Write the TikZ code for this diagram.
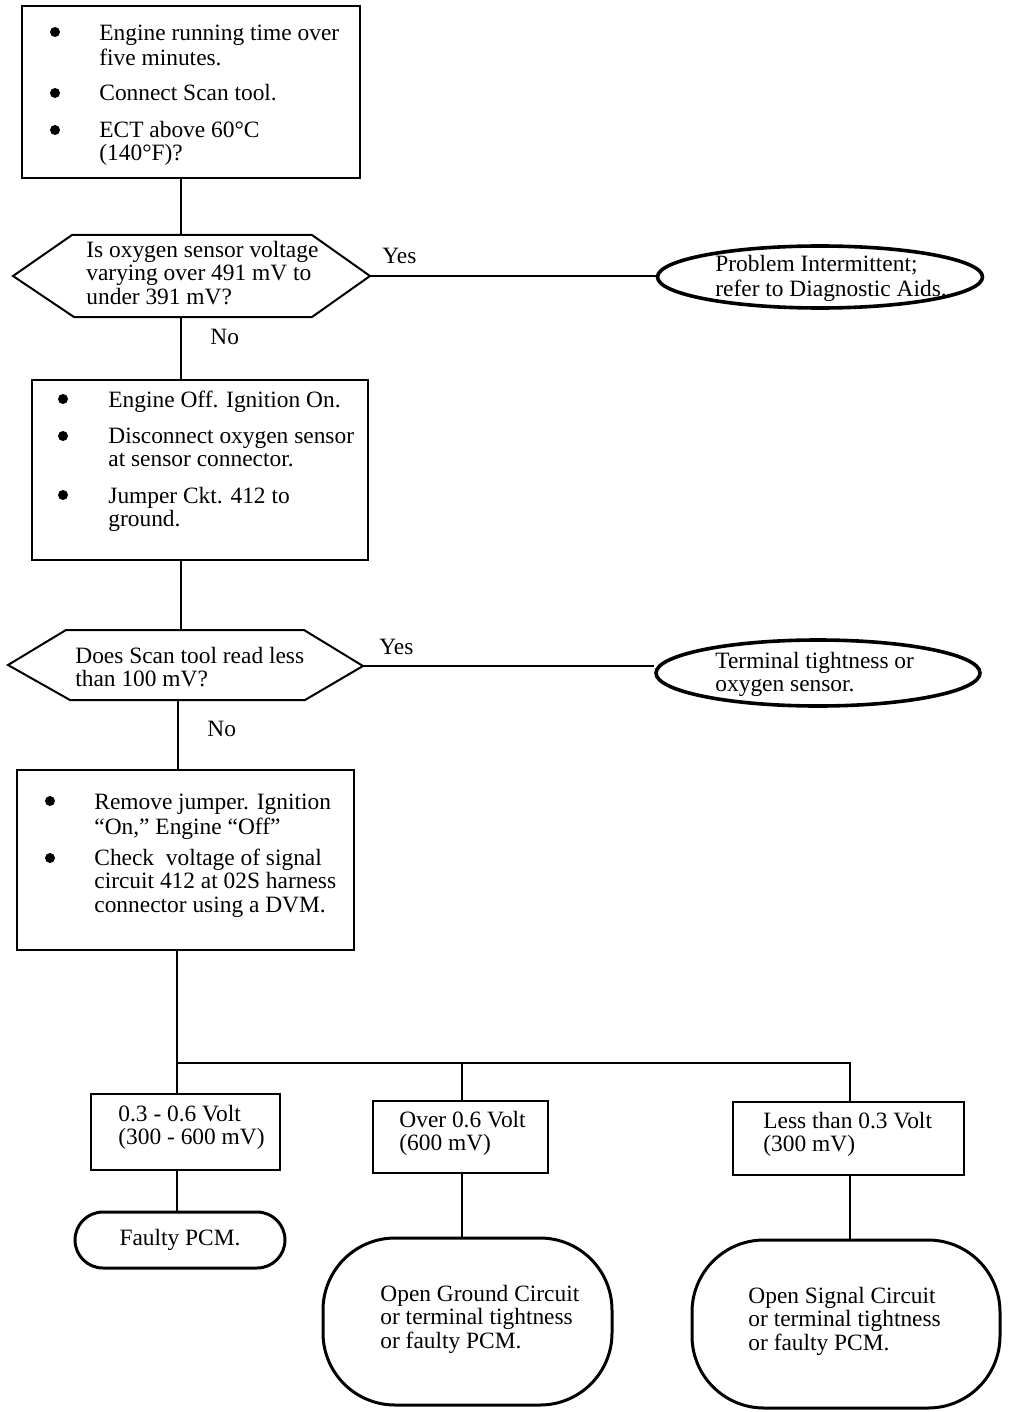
\documentclass[tikz,border=0pt]{standalone}
\usepackage{fontspec}
\setmainfont{Liberation Serif}
\usetikzlibrary{shapes.geometric}
\begin{document}
\begin{tikzpicture}[x=0.5pt,y=-0.5pt,
  box/.style={draw, rectangle, line width=1pt, inner sep=0},
  oval/.style={draw, ellipse, line width=1.8pt, inner sep=0},
  term/.style={draw, rectangle, line width=1.5pt, inner sep=0},
  txt/.style={inner sep=0, anchor=north west, align=left, font=\fontsize{11.7}{11.75}\selectfont},
  conn/.style={line width=1pt},
  dia/.style={line width=1pt, line join=miter},
  bul/.style={fill=black}]
\useasboundingbox (0,0) rectangle (1024,1412);

% ---------- boxes ----------
\node[box, minimum width=169pt, minimum height=86pt] (b1) at (191,92) {};
\node[box, minimum width=168pt, minimum height=90pt] (b2) at (200,470) {};
\node[box, minimum width=168.5pt, minimum height=90pt] (b3) at (185.5,860) {};
\node[box, minimum width=94.5pt, minimum height=38pt] (b4) at (185.5,1132) {};
\node[box, minimum width=87.5pt, minimum height=36pt] (b5) at (460.5,1137) {};
\node[box, minimum width=115.5pt, minimum height=36.5pt] (b6) at (848.5,1138.5) {};

% ---------- ovals ----------
\node[oval, minimum width=162.5pt, minimum height=31pt] (e1) at (820,277) {};
\node[oval, minimum width=162pt, minimum height=33pt] (e2) at (818,673) {};

% ---------- terminals ----------
\node[term, rounded corners=14pt, minimum width=105pt, minimum height=28pt,
      font=\fontsize{11.7}{11.75}\selectfont] (f1) at (180,1240) {Faulty PCM.};
\node[term, rounded corners=36pt, minimum width=144.5pt, minimum height=83.5pt] (f2) at (467.5,1321.5) {};
\node[term, rounded corners=36pt, minimum width=154pt, minimum height=84pt] (f3) at (846,1324) {};

% ---------- decision hexagons ----------
\coordinate (d1l) at (13,276);
\coordinate (d1t) at (181,235);
\coordinate (d1r) at (370,276);
\coordinate (d1b) at (181,317);
\draw[dia] (d1l) -- (72,235) -- (312,235) -- (d1r) -- (312,317) -- (74,317) -- cycle;

\coordinate (d2l) at (8,665);
\coordinate (d2t) at (181,630);
\coordinate (d2r) at (363,666);
\coordinate (d2b) at (178,700);
\draw[dia] (d2l) -- (66,630) -- (304,630) -- (d2r) -- (305,700) -- (70,700) -- cycle;

% ---------- bus coordinates ----------
\coordinate (busL) at (177,1063);
\coordinate (busM) at (462,1063);
\coordinate (busR) at (850,1063);

% ---------- connectors ----------
\draw[conn] (b1.south -| d1t) -- (d1t);
\draw[conn] (d1r) -- (d1r -| e1.west);
\draw[conn] (d1b) -- (d1b |- b2.north);
\draw[conn] (b2.south -| d2t) -- (d2t);
\draw[conn] (d2r) -- (d2r -| e2.west);
\draw[conn] (d2b) -- (d2b |- b3.north);
\draw[conn] (b3.south -| busL) -- (busL) -- (busR) -- (busR |- b6.north);
\draw[conn] (busL) -- (busL |- b4.north);
\draw[conn] (busM) -- (busM |- b5.north);
\draw[conn] (b4.south -| busL) -- (busL |- f1.north);
\draw[conn] (b5.south -| busM) -- (busM |- f2.north);
\draw[conn] (b6.south -| busR) -- (busR |- f3.north);

% ---------- bullets ----------
\fill[bul] (55,32) circle (5);
\fill[bul] (55,93) circle (5);
\fill[bul] (55,130) circle (5);
\fill[bul] (63,399) circle (5);
\fill[bul] (63,436) circle (5);
\fill[bul] (63,495) circle (5);
\fill[bul] (50,801) circle (5);
\fill[bul] (50,858) circle (5);

% ---------- texts ----------
\node[txt] (t1a) at (99,23.5) {\strut Engine running time over\\five minutes.};
\node[txt] (t1b) at (99,83.5) {\strut Connect Scan tool.};
\node[txt] (t1c) at (99,120.5) {\strut ECT above 60°C\\(140°F)?};

\node[txt] (q1) at (86,240.5) {\strut Is oxygen sensor voltage\\varying over 491 mV to\\under 391 mV?};
\node[txt] (y1) at (382,246.5) {\strut Yes};
\node[txt] (n1) at (210,327.5) {\strut No};
\node[txt] (r1) at (715,254.5) {\strut Problem Intermittent;\\refer to Diagnostic Aids.};

\node[txt] (t2a) at (108,390.5) {\strut Engine Off. Ignition On.};
\node[txt] (t2b) at (108,426.5) {\strut Disconnect oxygen sensor\\at sensor connector.};
\node[txt] (t2c) at (108,486.5) {\strut Jumper Ckt. 412 to\\ground.};

\node[txt] (q2) at (75,646.5) {\strut Does Scan tool read less\\than 100 mV?};
\node[txt] (y2) at (379,637.5) {\strut Yes};
\node[txt] (n2) at (207,719.5) {\strut No};
\node[txt] (r2) at (715,651.5) {\strut Terminal tightness or\\oxygen sensor.};

\node[txt] (t3a) at (94,792.5) {\strut Remove jumper. Ignition\\“On,” Engine “Off”};
\node[txt] (t3b) at (94,848.5) {\strut Check~ voltage of signal\\circuit 412 at 02S harness\\connector using a DVM.};

\node[txt] (t4) at (118,1104.5) {\strut 0.3 - 0.6 Volt\\(300 - 600 mV)};
\node[txt] (t5) at (399,1110.5) {\strut Over 0.6 Volt\\(600 mV)};
\node[txt] (t6) at (763,1111.5) {\strut Less than 0.3 Volt\\(300 mV)};

\node[txt] (t7) at (380,1284.5) {\strut Open Ground Circuit\\or terminal tightness\\or faulty PCM.};
\node[txt] (t8) at (748,1286.5) {\strut Open Signal Circuit\\or terminal tightness\\or faulty PCM.};
\end{tikzpicture}
\end{document}
